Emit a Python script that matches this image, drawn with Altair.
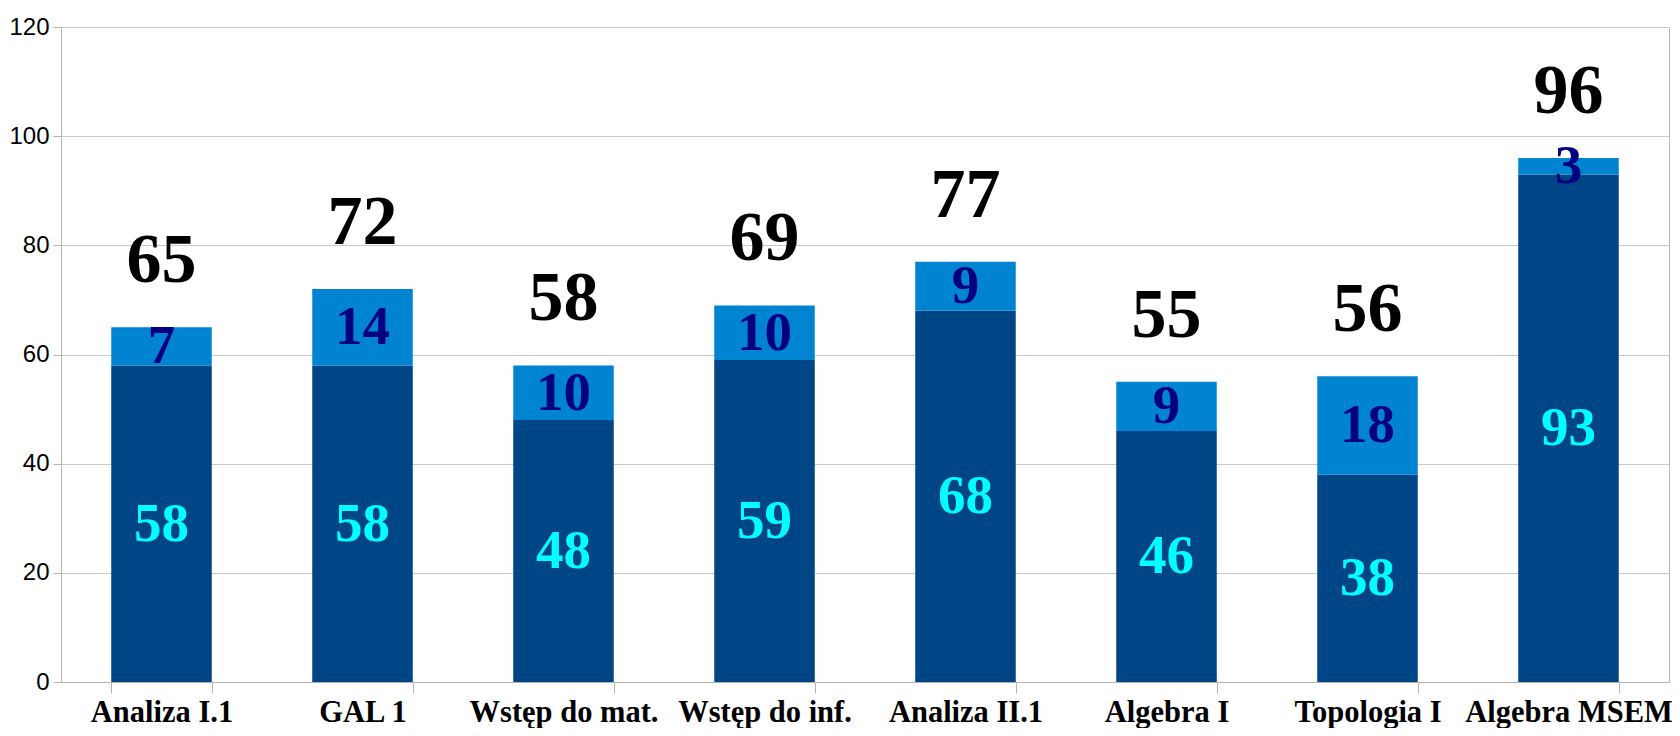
import altair as alt
import pandas as pd

courses = ["Analiza I.1", "GAL 1", "Wstęp do mat.", "Wstęp do inf.",
           "Analiza II.1", "Algebra I", "Topologia I", "Algebra MSEM"]
base_vals = [58, 58, 48, 59, 68, 46, 38, 93]
extra_vals = [7, 14, 10, 10, 9, 9, 18, 3]
totals = [65, 72, 58, 69, 77, 55, 56, 96]

df = pd.DataFrame({"course": courses, "base": base_vals,
                   "extra": extra_vals, "total": totals})

SERIF = "Liberation Serif"
SANS = "Liberation Sans"

x = alt.X("course:N", sort=courses, title=None,
          scale=alt.Scale(paddingInner=0.5, paddingOuter=0.25),
          axis=alt.Axis(labelAngle=0, labelFont=SERIF, labelFontWeight="bold",
                        labelFontSize=30.5, labelColor="#000000",
                        labelLimit=0, labelOverlap=False,
                        tickBand="extent", tickSize=11, tickColor="#b3b3b3",
                        domainColor="#b3b3b3", labelBaseline="alphabetic",
                        labelPadding=28, grid=False))
yscale = alt.Scale(domain=[0, 120], nice=False)
yaxis = alt.Axis(values=[0, 20, 40, 60, 80, 100, 120], labelFont=SANS,
                 labelFontSize=24, labelColor="#000000", tickSize=8,
                 labelPadding=4, tickColor="#b3b3b3", domainColor="#b3b3b3",
                 gridColor="#c8c8c8", title=None)

base = alt.Chart(df)

bar_base = base.mark_bar(color="#004586").encode(
    x=x, y=alt.Y("base:Q", scale=yscale, axis=yaxis))
bar_extra = base.mark_bar(color="#0084d1").encode(
    x=x, y=alt.Y("base:Q", scale=yscale, axis=yaxis), y2="total:Q")

txt_base = base.transform_calculate(mid="datum.base / 2").mark_text(
    font=SERIF, fontWeight="bold", fontSize=55, color="#00ffff",
    baseline="middle").encode(
    x=x, y=alt.Y("mid:Q", scale=yscale, axis=yaxis), text="base:Q")
txt_extra = base.transform_calculate(mid="(datum.base + datum.total) / 2").mark_text(
    font=SERIF, fontWeight="bold", fontSize=55, color="#000080",
    baseline="middle").encode(
    x=x, y=alt.Y("mid:Q", scale=yscale, axis=yaxis), text="extra:Q")
txt_total = base.mark_text(
    font=SERIF, fontWeight="bold", fontSize=70, color="#000000",
    baseline="alphabetic", dy=-45).encode(
    x=x, y=alt.Y("total:Q", scale=yscale, axis=yaxis), text="total:Q")

chart = alt.layer(bar_base, bar_extra, txt_base, txt_extra, txt_total).properties(
    width=1608, height=655,
    autosize=alt.AutoSizeParams(type="none"),
    padding={"left": 53, "top": 19, "right": 3, "bottom": 46},
    background="#ffffff",
).configure_view(stroke="#b3b3b3", strokeWidth=1)

chart.save("out.html", embed_options={"renderer": "svg", "actions": False})
